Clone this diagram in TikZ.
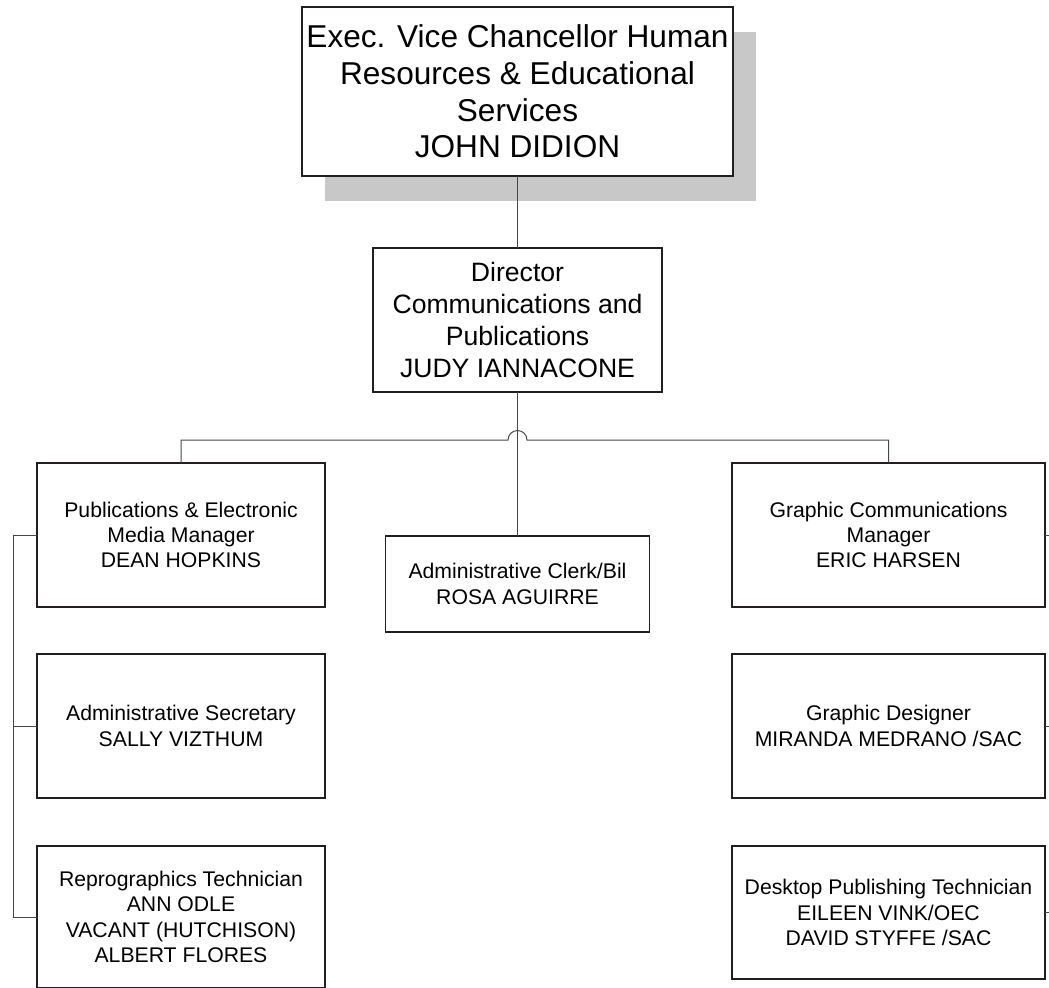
\documentclass[tikz,border=0pt]{standalone}
\usepackage{fontspec}
\setmainfont{Liberation Sans}
\usetikzlibrary{positioning,calc,shadows}
\definecolor{orgborder}{RGB}{35,31,32}
\definecolor{orgconn}{RGB}{70,70,70}
\definecolor{orgshadow}{RGB}{200,200,200}

\begin{document}
\begin{tikzpicture}[
    node distance=24pt,
    topbox/.style={rectangle, draw=orgborder, line width=1pt, minimum width=215.5pt, minimum height=84.5pt, inner sep=0pt, outer sep=0pt, align=center, fill=white, font=\fontsize{15.8}{18.3}\selectfont, drop shadow={shadow xshift=11.5pt, shadow yshift=-12.5pt, fill=orgshadow, opacity=1}},
    dirbox/.style={rectangle, draw=orgborder, line width=1pt, minimum width=144.5pt, minimum height=72pt, inner sep=0pt, outer sep=0pt, align=center, fill=white, font=\fontsize{13.3}{16.1}\selectfont},
    staffbox/.style={rectangle, draw=orgborder, line width=0.9pt, minimum width=144pt, minimum height=72pt, inner sep=0pt, outer sep=0pt, align=center, fill=white, font=\fontsize{10.6}{12.6}\selectfont},
    link/.style={draw=orgconn, line width=0.5pt}
]
\useasboundingbox (0,0) rectangle (524.5pt,-493.5pt);

% Executive
\node[topbox] (evc) at (258.75pt,-45.75pt) {Exec. Vice Chancellor Human\\Resources \& Educational\\Services\\JOHN DIDION};

% Director
\node[dirbox, below=36pt of evc] (director) {Director\\Communications and\\Publications\\JUDY IANNACONE};

% Clerk
\node[staffbox, minimum width=132pt, minimum height=48pt, below=72pt of director] (clerk) {Administrative Clerk/Bil\\ROSA AGUIRRE};

% Left column
\node[staffbox, below left=35.5pt and 24pt of director] (pubmgr) {Publications \& Electronic\\Media Manager\\DEAN HOPKINS};
\node[staffbox, below=23.5pt of pubmgr] (secretary) {Administrative Secretary\\SALLY VIZTHUM};
\node[staffbox, minimum height=71pt, below=24pt of secretary] (repro) {Reprographics Technician\\ANN ODLE\\VACANT (HUTCHISON)\\ALBERT FLORES};

% Right column
\node[staffbox, minimum width=156.5pt, below right=35.5pt and 35pt of director] (gcmgr) {Graphic Communications\\Manager\\ERIC HARSEN};
\node[staffbox, minimum width=156.5pt, below=23.5pt of gcmgr] (designer) {Graphic Designer\\MIRANDA MEDRANO /SAC};
\node[staffbox, minimum width=156.5pt, minimum height=66.5pt, below=24pt of designer] (dtp) {Desktop Publishing Technician\\EILEEN VINK/OEC\\DAVID STYFFE /SAC};

% Connectors
\coordinate[below=24pt of director] (split);
\draw[link] (evc) -- (director);
\draw[link] (director) -- (clerk);
\draw[link] (pubmgr.north) |- ([xshift=-4.75pt]split) arc[start angle=180, end angle=0, radius=4.75pt] -| (gcmgr.north);

% Left bracket
\coordinate[left=12pt of pubmgr] (leftbar);
\draw[link] (pubmgr.west) -- (leftbar) |- (repro.west);
\draw[link] (secretary.west) -- (secretary.west -| leftbar);

% Right stubs
\foreach \n in {gcmgr,designer,dtp} {
  \coordinate[right=4pt of \n] (\n-out);
  \draw[link] (\n) -- (\n-out);
}

\end{tikzpicture}
\end{document}
